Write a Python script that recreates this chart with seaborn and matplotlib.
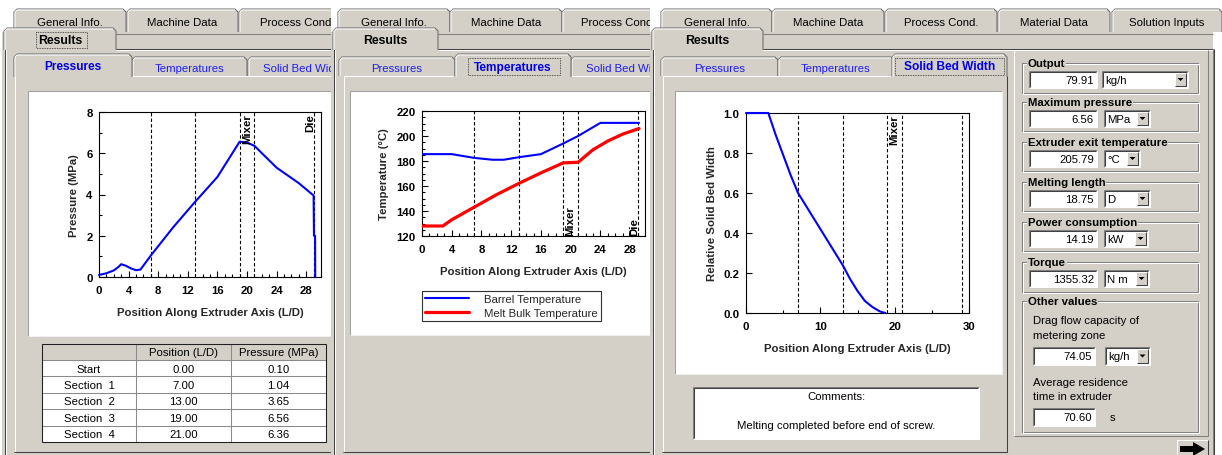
import matplotlib
matplotlib.use("Agg")
import matplotlib.pyplot as plt
import matplotlib.transforms as mtrans
import numpy as np
import pandas as pd
import seaborn as sns
from matplotlib.patches import Rectangle, Polygon
from matplotlib.ticker import MultipleLocator, FormatStrFormatter

# ---------------- data ----------------
section_bounds = [7, 13, 19, 21, 29]

pressure_pos = [0.0, 1.0, 2.0, 2.6, 3.0, 3.6, 4.3, 5.0, 5.6, 7.0, 10.0, 13.0, 16.0,
                19.0, 20.0, 21.0, 24.0, 27.0, 29.0, 29.05, 29.2, 29.22]
pressure_mpa = [0.10, 0.18, 0.32, 0.48, 0.62, 0.55, 0.42, 0.33, 0.36, 1.04, 2.40, 3.65, 4.85,
                6.56, 6.52, 6.36, 5.30, 4.55, 3.95, 2.00, 2.00, 0.00]

barrel_pos = [0, 4, 7, 9.5, 11, 13, 16, 19, 21, 24, 29.2]
barrel_temp = [185.5, 185.5, 182.5, 181, 181, 183, 185.5, 194, 200, 210.5, 210.5]
melt_pos = [0, 2.8, 4, 7, 10, 13, 16, 19, 21, 23, 25, 27, 29.2]
melt_temp = [128, 128, 133, 143, 153, 162, 170.5, 178.5, 179, 189, 196, 201.5, 206]

bed_pos = [0, 3, 4, 5, 6, 7, 10, 13, 14, 15, 16, 17, 18, 18.75]
bed_width = [1.0, 1.0, 0.89, 0.79, 0.69, 0.60, 0.42, 0.24, 0.17, 0.11, 0.06, 0.03, 0.008, 0.0]

table_rows = ["Start", "Section  1", "Section  2", "Section  3", "Section  4"]
table_pos = [0.00, 7.00, 13.00, 19.00, 21.00]
table_pres = [0.10, 1.04, 3.65, 6.56, 6.36]

result_labels = ["Output", "Maximum pressure", "Extruder exit temperature",
                 "Melting length", "Power consumption", "Torque"]
result_values = ["79.91", "6.56", "205.79", "18.75", "14.19", "1355.32"]
result_units = ["kg/h", "MPa", "°C", "D", "kW", "N m"]
drag_flow = "74.05"
drag_unit = "kg/h"
residence_time = "70.60"
residence_unit = "s"

top_tab_names = ["General Info.", "Machine Data", "Process Cond.", "Material Data", "Solution Inputs"]
inner_tab_names = ["Pressures", "Temperatures", "Solid Bed Width"]

# ---------------- style ----------------
sns.set_theme(style="ticks")
GUI = ["Liberation Sans", "DejaVu Sans"]
plt.rcParams["font.family"] = GUI
plt.rcParams["font.weight"] = "bold"
plt.rcParams["axes.labelweight"] = "bold"

FS = 8.2      # GUI text size
CFS = 8.2     # chart text size

W, H = 1222, 456
fig = plt.figure(figsize=(W / 100, H / 100), dpi=100)
fig.patch.set_facecolor("white")
bg = fig.add_axes([0, 0, 1, 1])
bg.set_xlim(0, W)
bg.set_ylim(H, 0)
bg.axis("off")
bg.set_zorder(-10)

GRAY = "#D4D0C8"
SHADOW = "#808080"
DKSH = "#404040"
HI = "#FFFFFF"
PX = 0.75


def R(x0, y0, x1, y1, fc, ec="none", lw=PX, z=1, ls="-"):
    bg.add_patch(Rectangle((x0, y0), x1 - x0, y1 - y0, facecolor=fc, edgecolor=ec,
                           lw=lw, zorder=z, ls=ls))


def L(xs, ys, c, lw=PX, z=1):
    bg.plot(xs, ys, color=c, lw=lw, zorder=z, solid_capstyle="butt", solid_joinstyle="miter")


def T(x, y, s, z=1, ha="center", va="center", size=FS, weight="normal", color="black", **kw):
    return bg.text(x, y, s, ha=ha, va=va, fontsize=size, fontweight=weight, color=color,
                   zorder=z, family=GUI, **kw)


def raised(x0, y0, x1, y1, z):
    L([x0, x0, x1], [y1, y0, y0], HI, z=z)
    L([x0, x1, x1], [y1, y1, y0], DKSH, z=z)


def sunken(x0, y0, x1, y1, z):
    L([x0, x0, x1], [y1, y0, y0], SHADOW, z=z)
    L([x0, x1, x1], [y1, y1, y0], HI, z=z)
    L([x0 + 1, x0 + 1, x1 - 1], [y1 - 1, y0 + 1, y0 + 1], DKSH, z=z)


def tab(x0, x1, y0, y1, label, z, weight="normal", color="black", size=FS, focus=None):
    c = 3
    pts = [(x0, y1), (x0, y0 + c), (x0 + c, y0), (x1 - c, y0), (x1, y0 + c), (x1, y1)]
    bg.add_patch(Polygon(pts, closed=True, facecolor=GRAY, edgecolor="none", zorder=z))
    L([x0, x0, x0 + c, x1 - c, x1, x1], [y1, y0 + c, y0, y0, y0 + c, y1], "#6A6A6A", z=z)
    L([x0 + 1, x0 + 1, x0 + c, x1 - c], [y1, y0 + c, y0 + 1, y0 + 1], HI, z=z)
    t = T((x0 + x1) / 2, (y0 + y1) / 2 + 1, label, z=z, weight=weight, color=color, size=size)
    if focus is not None:
        fx0, fx1 = focus
        bg.add_patch(Rectangle((fx0, y0 + 4), fx1 - fx0, (y1 - y0) - 6, facecolor="none",
                               edgecolor="#303030", lw=0.6, ls=(0, (1, 1)), zorder=z))
    return t


def panel(x0, x1, tops, res_x1, res_focus, inners, active, inner_focus, inner_x1, white, z):
    R(x0, 0, x1, 33, "white", z=z)
    R(x0, 33, x1, H, GRAY, z=z)
    for (a, b, lab) in tops:
        tab(a, b, 10, 33, lab, z + 1)
    # strip of the "Results" tab row
    R(res_x1, 34, x1, 49.5, GRAY, z=z + 1)
    L([res_x1, x1], [34.5, 34.5], SHADOW, z=z + 1)
    L([res_x1, x1], [49.5, 49.5], DKSH, z=z + 1)
    L([res_x1, x1], [50.5, 50.5], HI, z=z + 1)
    # body left edge
    L([x0 + 2.5, x0 + 2.5], [30, H], DKSH, z=z + 1)
    L([x0 + 3.5, x0 + 3.5], [50, H], HI, z=z + 1)
    tab(x0 + 2, res_x1, 29, 51, "Results", z + 2, weight="bold", size=8.8,
        focus=res_focus)
    # inner tab control
    ix0 = x0 + 12
    R(ix0, 76, inner_x1, H - 2, GRAY, z=z + 2)
    L([ix0 + 0.5, ix0 + 0.5, inner_x1], [H - 2, 76.5, 76.5], HI, z=z + 3)
    L([ix0, inner_x1 - 0.5, inner_x1 - 0.5], [H - 2.5, H - 2.5, 76.5], DKSH, z=z + 3)
    for i, (a, b, lab) in enumerate(inners):
        if i == active:
            continue
        tab(a, b, 58, 77, lab, z + 3, color="#1E1EF0")
    a, b, lab = inners[active]
    tab(a - 2, b + 1, 55, 78, lab, z + 4, weight="bold", color="#0000E0", size=8.6,
        focus=inner_focus)
    wx0, wy0, wx1, wy1 = white
    R(wx0, wy0, wx1, wy1, "white", z=z + 5)
    L([wx0, wx0, wx1], [wy1, wy0, wy0], "#A0A0A0", z=z + 5)
    L([wx0, wx1, wx1], [wy1, wy1, wy0], "#F0F0F0", z=z + 5)


# ---- panel 1 ----
panel(2, 331,
      [(14, 126, top_tab_names[0]), (127, 238, top_tab_names[1]), (239, 355, top_tab_names[2])],
      116, (36, 87),
      [(16, 131, inner_tab_names[0]), (132, 247, inner_tab_names[1]), (248, 360, inner_tab_names[2])],
      0, None, 360, (28, 92, 360, 337), 10)

# pressure table
tz = 18
cols = [42, 136, 231, 326]
row_y = [345, 361, 377.4, 393.8, 410.2, 426.6, 443]
R(cols[0], row_y[0], cols[-1], row_y[1], GRAY, z=tz)
R(cols[0], row_y[1], cols[-1], row_y[-1], "white", z=tz)
for yy in row_y:
    L([cols[0], cols[-1]], [yy, yy], "#8A8A8A", z=tz + 1)
for xx in cols:
    L([xx, xx], [row_y[0], row_y[-1]], "#8A8A8A", z=tz + 1)
L([cols[0], cols[-1], cols[-1]], [row_y[-1], row_y[-1], row_y[0]], "#202020", z=tz + 1)
L([cols[0], cols[0], cols[-1]], [row_y[-1], row_y[0], row_y[0]], "#202020", z=tz + 1)
T((cols[1] + cols[2]) / 2, (row_y[0] + row_y[1]) / 2 + 0.5, "Position (L/D)", z=tz + 2)
T((cols[2] + cols[3]) / 2, (row_y[0] + row_y[1]) / 2 + 0.5, "Pressure (MPa)", z=tz + 2)
for i in range(len(table_rows)):
    yc = (row_y[i + 1] + row_y[i + 2]) / 2 + 0.5
    T((cols[0] + cols[1]) / 2, yc, table_rows[i], z=tz + 2)
    T((cols[1] + cols[2]) / 2, yc, f"{table_pos[i]:.2f}", z=tz + 2)
    T((cols[2] + cols[3]) / 2, yc, f"{table_pres[i]:.2f}", z=tz + 2)

# ---- panel 2 ----
panel(331, 652,
      [(338, 450, top_tab_names[0]), (450, 562, top_tab_names[1]), (562, 674, top_tab_names[2])],
      438, None,
      [(339, 455, inner_tab_names[0]), (457, 570, inner_tab_names[1]), (571, 683, inner_tab_names[2])],
      1, (468, 560), 700, (350, 92, 700, 336), 20)

# ---- panel 3 ----
panel(650, 1213,
      [(661, 772, top_tab_names[0]), (772, 884, top_tab_names[1]), (885, 997, top_tab_names[2]),
       (998, 1110, top_tab_names[3]), (1112, 1222, top_tab_names[4])],
      763, None,
      [(661, 778, inner_tab_names[0]), (778, 894, inner_tab_names[1]), (894, 1006, inner_tab_names[2])],
      2, (895, 1004), 1007, (675, 92, 1002, 375), 30)
# panel 3 right border
L([1213.5, 1213.5], [50, H], DKSH, z=33)
L([1212.5, 1212.5], [50, H], SHADOW, z=33)

# comments box
cz = 40
R(693, 388, 979, 440, "white", z=cz)
sunken(693, 388, 979, 440, cz + 1)
T(836, 397, "Comments:", z=cz + 2)
T(836, 426, "Melting completed before end of screw.", z=cz + 2)

# right form
fz = 40
L([1014, 1014, 1208], [437, 51, 51], HI, z=fz)
L([1014, 1208, 1208], [437, 437, 51], SHADOW, z=fz)


def group(y0, y1, label):
    L([1022, 1022, 1198, 1198, 1022], [y0, y1, y1, y0, y0], SHADOW, z=fz + 1)
    L([1023, 1023, 1199, 1199, 1023], [y0 + 1, y1 + 1, y1 + 1, y0 + 1, y0 + 1], HI, z=fz + 1)
    T(1028, y0, label, z=fz + 2, ha="left", weight="bold", size=FS,
      bbox=dict(facecolor=GRAY, edgecolor="none", pad=0.6))


def field(x0, x1, y0, y1, text):
    R(x0, y0, x1, y1, "white", z=fz + 1)
    sunken(x0, y0, x1, y1, fz + 2)
    T(x1 - 3, (y0 + y1) / 2 + 0.5, text, z=fz + 3, ha="right")


def combo(x0, x1, y0, y1, text):
    R(x0, y0, x1, y1, "white", z=fz + 1)
    sunken(x0, y0, x1, y1, fz + 2)
    T(x0 + 3, (y0 + y1) / 2 + 0.5, text, z=fz + 3, ha="left")
    bx0 = x1 - 13
    R(bx0, y0 + 2, x1 - 2, y1 - 2, GRAY, z=fz + 3)
    raised(bx0, y0 + 2, x1 - 2, y1 - 2, fz + 4)
    cx, cy = (bx0 + x1 - 2) / 2, (y0 + y1) / 2
    bg.add_patch(Polygon([(cx - 3, cy - 1.5), (cx + 3, cy - 1.5), (cx, cy + 1.5)], closed=True,
                         facecolor="black", edgecolor="none", zorder=fz + 5))


group_tops = [64, 103, 143, 183, 223, 263]
group_bots = [94, 132, 172, 212, 252, 293]
combo_right = [1188, 1150, 1140, 1150, 1148, 1149]
for i in range(len(result_labels)):
    group(group_tops[i], group_bots[i], result_labels[i])
    fy0 = group_tops[i] + 8
    field(1029, 1097, fy0, fy0 + 17, result_values[i])
    combo(1102 if i == 0 else 1104, combo_right[i], fy0, fy0 + 17, result_units[i])

group(302, 433, "Other values")
T(1033, 321, "Drag flow capacity of", z=fz + 2, ha="left")
T(1033, 336, "metering zone", z=fz + 2, ha="left")
field(1033, 1095, 348, 366, drag_flow)
combo(1105, 1150, 348, 366, drag_unit)
T(1033, 383, "Average residence", z=fz + 2, ha="left")
T(1033, 397, "time in extruder", z=fz + 2, ha="left")
field(1033, 1095, 409, 427, residence_time)
T(1110, 418, residence_unit, z=fz + 2, ha="left")

# arrow button
R(1177, 441, 1208, 458, GRAY, z=fz + 1)
raised(1177, 441, 1208, 458, fz + 2)
bg.add_patch(Polygon([(1180, 447), (1193, 447), (1193, 443), (1205, 450), (1193, 457),
                      (1193, 453), (1180, 453)], closed=True, facecolor="black",
                     edgecolor="none", zorder=fz + 3))


# ---------------- charts ----------------
def px_axes(x0, y0, x1, y1):
    return fig.add_axes([x0 / W, 1 - y1 / H, (x1 - x0) / W, (y1 - y0) / H])


def style(ax, xlim, ylim, xmaj, xmin, ymaj, ymin, yfmt, xlabel, ylabel):
    ax.set_facecolor("white")
    ax.set_xlim(*xlim)
    ax.set_ylim(*ylim)
    ax.xaxis.set_major_locator(MultipleLocator(xmaj))
    ax.yaxis.set_major_locator(MultipleLocator(ymaj))
    if xmin:
        ax.xaxis.set_minor_locator(MultipleLocator(xmin))
    if ymin:
        ax.yaxis.set_minor_locator(MultipleLocator(ymin))
    ax.yaxis.set_major_formatter(FormatStrFormatter(yfmt))
    for s in ax.spines.values():
        s.set_visible(True)
        s.set_color("black")
        s.set_linewidth(0.8)
    ax.tick_params(which="both", direction="in", colors="black", top=False, right=False,
                   labelsize=CFS, width=0.8)
    ax.tick_params(which="major", length=4)
    ax.tick_params(axis="x", which="major", pad=5.5)
    ax.tick_params(axis="y", which="major", pad=4.5)
    ax.tick_params(which="minor", length=2.5)
    ax.set_xlabel(xlabel, fontsize=CFS, fontweight="bold", labelpad=9)
    ax.set_ylabel(ylabel, fontsize=CFS, fontweight="bold", labelpad=5)
    ax.grid(False)
    for xv in section_bounds:
        ax.axvline(xv, color="black", lw=0.8, ls=(0, (3, 2)), zorder=1)


def marker_label(ax, xv, yfrac, text, va):
    tr = mtrans.blended_transform_factory(ax.transData, ax.transAxes)
    ax.text(xv, yfrac, text, transform=tr, rotation=90, ha="center", va=va,
            fontsize=CFS, fontweight="bold", color="black", zorder=3)


# pressure
ax_p = px_axes(99, 113, 321, 278)
df_p = pd.DataFrame({"pos": pressure_pos, "p": pressure_mpa})
sns.lineplot(data=df_p, x="pos", y="p", ax=ax_p, color="#0000FF", lw=1.5,
             estimator=None, sort=False, zorder=3, clip_on=False)
style(ax_p, (0, 30), (0, 8), 4, 1, 2, 1, "%d", "Position Along Extruder Axis (L/D)",
      "Pressure (MPa)")
marker_label(ax_p, 20, 0.995, "Mixer", "top")
marker_label(ax_p, 28.6, 0.995, "Die", "top")

# temperatures
ax_t = px_axes(422, 112, 645, 237)
df_b = pd.DataFrame({"pos": barrel_pos, "T": barrel_temp})
df_m = pd.DataFrame({"pos": melt_pos, "T": melt_temp})
sns.lineplot(data=df_b, x="pos", y="T", ax=ax_t, color="#0000FF", lw=1.5,
             estimator=None, sort=False, label="Barrel Temperature", zorder=3)
sns.lineplot(data=df_m, x="pos", y="T", ax=ax_t, color="#FF0000", lw=2.3,
             estimator=None, sort=False, label="Melt Bulk Temperature", zorder=3)
style(ax_t, (0, 30), (120, 220), 4, 1, 20, 5, "%d", "Position Along Extruder Axis (L/D)",
      "Temperature (°C)")
marker_label(ax_t, 20, 0.01, "Mixer", "bottom")
marker_label(ax_t, 28.6, 0.01, "Die", "bottom")
leg = ax_t.legend(loc="upper left", bbox_to_anchor=(0.0, -0.44), borderaxespad=0,
                  frameon=True, fancybox=False, edgecolor="#303030", framealpha=1,
                  prop={"weight": "normal", "size": CFS, "family": GUI},
                  handlelength=3.8, handletextpad=1.3, labelspacing=0.3, borderpad=0.3)
leg.get_frame().set_linewidth(0.8)

# solid bed width
ax_s = px_axes(746, 114, 969, 314)
df_s = pd.DataFrame({"pos": bed_pos, "w": bed_width})
sns.lineplot(data=df_s, x="pos", y="w", ax=ax_s, color="#0000FF", lw=1.5,
             estimator=None, sort=False, zorder=3, clip_on=False)
style(ax_s, (0, 30), (0, 1), 10, 5, 0.2, None, "%.1f", "Position Along Extruder Axis (L/D)",
      "Relative Solid Bed Width")
marker_label(ax_s, 20, 0.995, "Mixer", "top")

fig.savefig("out.png", dpi=100)
